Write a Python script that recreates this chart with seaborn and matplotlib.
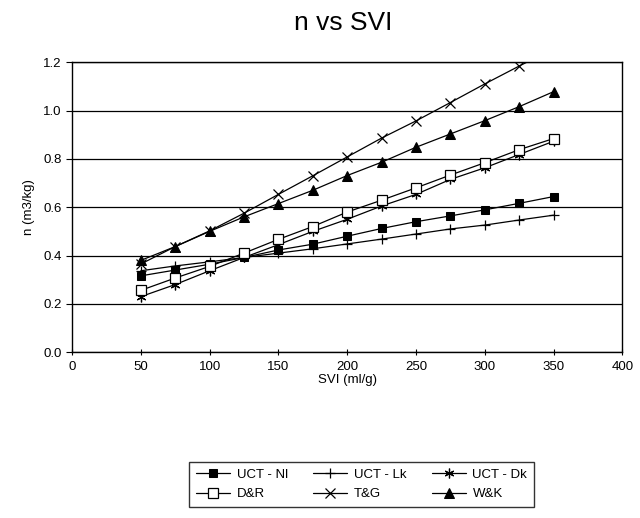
import matplotlib
matplotlib.use("Agg")
import matplotlib.pyplot as plt
import seaborn as sns
import pandas as pd

svi = [50, 75, 100, 125, 150, 175, 200, 225, 250, 275, 300, 325, 350]
uct_nl = [0.316, 0.340, 0.364, 0.392, 0.423, 0.447, 0.480, 0.512, 0.540, 0.564, 0.589, 0.616, 0.644]
uct_lk = [0.337, 0.357, 0.374, 0.392, 0.410, 0.428, 0.448, 0.468, 0.489, 0.510, 0.526, 0.547, 0.567]
uct_dk = [0.230, 0.280, 0.337, 0.392, 0.445, 0.500, 0.550, 0.605, 0.653, 0.715, 0.763, 0.818, 0.873]
d_r = [0.256, 0.307, 0.355, 0.410, 0.467, 0.520, 0.580, 0.629, 0.680, 0.733, 0.784, 0.838, 0.884]
t_g = [0.365, 0.437, 0.502, 0.575, 0.653, 0.730, 0.808, 0.886, 0.957, 1.033, 1.110, 1.184, 1.255]
w_k = [0.380, 0.437, 0.500, 0.560, 0.615, 0.670, 0.731, 0.786, 0.848, 0.903, 0.958, 1.016, 1.078]

labels = ["UCT - Nl", "UCT - Lk", "UCT - Dk", "D&R", "T&G", "W&K"]
series = [uct_nl, uct_lk, uct_dk, d_r, t_g, w_k]
x_ticks = [0, 50, 100, 150, 200, 250, 300, 350, 400]
y_ticks = [0.0, 0.2, 0.4, 0.6, 0.8, 1.0, 1.2]

sns.set_style("ticks")
plt.rcParams['font.family'] = ['Liberation Sans', 'DejaVu Sans']
plt.rcParams['text.color'] = 'black'
plt.rcParams['axes.labelcolor'] = 'black'

fig = plt.figure(figsize=(6.4, 5.18), dpi=100)
ax = fig.add_axes([0.1125, 0.320, 0.860, 0.560])

styles = [
    dict(marker="s", markersize=6, markerfacecolor="black"),
    dict(marker="+", markersize=7, markeredgewidth=0.9),
    dict(marker=(6, 2, 0), markersize=7, markeredgewidth=0.9),
    dict(marker="s", markersize=7, markerfacecolor="white", markeredgewidth=0.9),
    dict(marker="x", markersize=7, markeredgewidth=0.9),
    dict(marker="^", markersize=7, markerfacecolor="black"),
]

for lab, vals, st in zip(labels, series, styles):
    df = pd.DataFrame({"SVI": svi, "n": vals})
    sns.lineplot(data=df, x="SVI", y="n", ax=ax, color="black", linewidth=0.9,
                 markeredgecolor="black", label=lab, **st)

ax.set_xlim(0, 400)
ax.set_ylim(0, 1.2)
ax.set_xticks(x_ticks)
ax.set_yticks(y_ticks)
ax.set_yticklabels([f"{v:.1f}" for v in y_ticks])
ax.yaxis.grid(True, color="black", linewidth=0.9)
ax.xaxis.grid(False)
for s in ax.spines.values():
    s.set_color("black")
    s.set_linewidth(1.0)
ax.tick_params(axis="both", colors="black", labelsize=9.5, length=4, width=0.8)
ax.tick_params(axis="x", direction="inout", length=5)
ax.set_xlabel("SVI (ml/g)", fontsize=9.5, labelpad=1, color="black")
ax.set_ylabel("n (m3/kg)", fontsize=9.5, labelpad=6, color="black")
fig.text(0.537, 0.955, "n vs SVI", ha="center", va="center", fontsize=19, color="black")

handles, labs = ax.get_legend_handles_labels()
ax.get_legend().remove()
order = [0, 3, 1, 4, 2, 5]
leg = fig.legend([handles[i] for i in order], [labs[i] for i in order],
                 ncol=3, loc="center", bbox_to_anchor=(0.565, 0.065),
                 frameon=True, fancybox=False, edgecolor="black", fontsize=9.5,
                 handlelength=2.6, columnspacing=1.9, handletextpad=0.5,
                 borderpad=0.5, labelspacing=0.55)
leg.get_frame().set_linewidth(1.0)
for t in leg.get_texts():
    t.set_color("black")

fig.savefig("out.png", dpi=100, facecolor="white")
